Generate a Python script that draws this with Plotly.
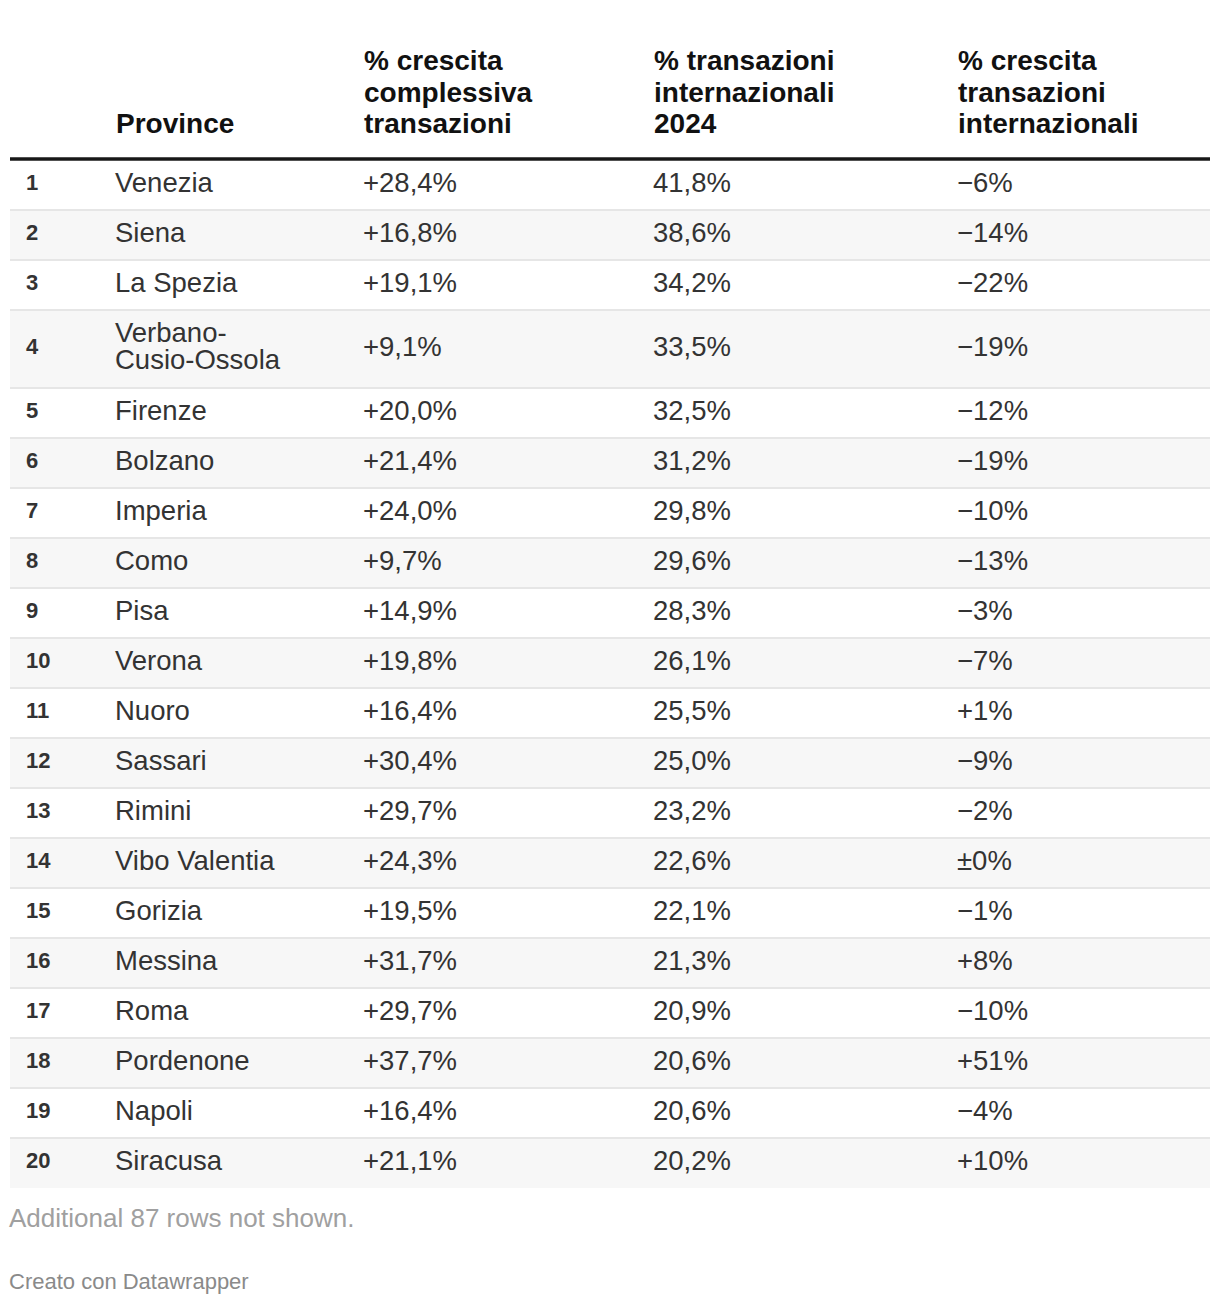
import plotly.graph_objects as go

# ---- data ----
ranks = list(range(1, 21))
provinces = ["Venezia", "Siena", "La Spezia", "Verbano-\nCusio-Ossola", "Firenze", "Bolzano",
             "Imperia", "Como", "Pisa", "Verona", "Nuoro", "Sassari", "Rimini", "Vibo Valentia",
             "Gorizia", "Messina", "Roma", "Pordenone", "Napoli", "Siracusa"]
crescita_totale = ["+28,4%", "+16,8%", "+19,1%", "+9,1%", "+20,0%", "+21,4%", "+24,0%", "+9,7%",
                   "+14,9%", "+19,8%", "+16,4%", "+30,4%", "+29,7%", "+24,3%", "+19,5%", "+31,7%",
                   "+29,7%", "+37,7%", "+16,4%", "+21,1%"]
quota_internazionali = ["41,8%", "38,6%", "34,2%", "33,5%", "32,5%", "31,2%", "29,8%", "29,6%",
                        "28,3%", "26,1%", "25,5%", "25,0%", "23,2%", "22,6%", "22,1%", "21,3%",
                        "20,9%", "20,6%", "20,6%", "20,2%"]
crescita_internazionali = ["−6%", "−14%", "−22%", "−19%", "−12%", "−19%", "−10%", "−13%", "−3%",
                           "−7%", "+1%", "−9%", "−2%", "±0%", "−1%", "+8%", "−10%", "+51%", "−4%",
                           "+10%"]
headers = ["", "Province", "% crescita\ncomplessiva\ntransazioni",
           "% transazioni\ninternazionali\n2024", "% crescita\ntransazioni\ninternazionali"]
footer_note = "Additional 87 rows not shown."
credit = "Creato con Datawrapper"

# ---- layout constants ----
W, H = 1220, 1306
PAGE_OFF = 8  # default body margin of the html page
LEFT, RIGHT = 10, 1210
col_x = [26, 115, 363, 653, 957]
header_bottom = 160
base_row_h = 50
extra_line_h = 28
body_line_h = 27
header_line_h = 31.5
header_last_center = 126

FONT = "Liberation Sans, Arial, Helvetica, sans-serif"
BODY_COLOR = "#333333"
HEAD_COLOR = "#111111"

fig = go.Figure()
shapes = []

# row geometry
tops, heights = [], []
y = header_bottom
for p in provinces:
    n = p.count("\n") + 1
    h = base_row_h + (n - 1) * extra_line_h
    tops.append(y)
    heights.append(h)
    y += h
centers = [t + h / 2 for t, h in zip(tops, heights)]

# backgrounds and separators
for i, (t, h) in enumerate(zip(tops, heights)):
    if i % 2 == 1:
        shapes.append(dict(type="rect", x0=LEFT, x1=RIGHT, y0=t, y1=t + h,
                           fillcolor="#f7f7f7", line=dict(width=0), layer="below"))
    if i > 0:
        shapes.append(dict(type="line", x0=LEFT, x1=RIGHT, y0=t, y1=t,
                           line=dict(color="#e6e6e6", width=2), layer="below"))
# header rule
shapes.append(dict(type="line", x0=LEFT, x1=RIGHT, y0=header_bottom - 1, y1=header_bottom - 1,
                   line=dict(color="#181818", width=3.5)))


def add_text_col(x, ys, texts, size, color, bold=False, line_h=body_line_h):
    px, py, pt = [], [], []
    for yc, t in zip(ys, texts):
        lines = t.split("\n")
        n = len(lines)
        for k, ln in enumerate(lines):
            px.append(x)
            py.append(yc + (k - (n - 1) / 2) * line_h)
            pt.append(f"<b>{ln}</b>" if bold else ln)
    fig.add_trace(go.Scatter(x=px, y=py, text=pt, mode="text", textposition="middle right",
                             textfont=dict(family=FONT, size=size, color=color),
                             hoverinfo="skip", showlegend=False, cliponaxis=False))


# body
add_text_col(col_x[0], [c - 1 for c in centers], [str(r) for r in ranks], 22, BODY_COLOR, bold=True)
add_text_col(col_x[1], centers, provinces, 27.5, BODY_COLOR)
add_text_col(col_x[2], centers, crescita_totale, 27.5, BODY_COLOR)
add_text_col(col_x[3], centers, quota_internazionali, 27.5, BODY_COLOR)
add_text_col(col_x[4], centers, crescita_internazionali, 27.5, BODY_COLOR)

# header (bottom aligned)
hx, hy, ht = [], [], []
for x, h in zip(col_x, headers):
    if not h:
        continue
    lines = h.split("\n")
    n = len(lines)
    for k, ln in enumerate(lines):
        hx.append(x + 1)
        hy.append(header_last_center - (n - 1 - k) * header_line_h)
        ht.append(f"<b>{ln}</b>")
fig.add_trace(go.Scatter(x=hx, y=hy, text=ht, mode="text", textposition="middle right",
                         textfont=dict(family=FONT, size=28, color=HEAD_COLOR),
                         hoverinfo="skip", showlegend=False, cliponaxis=False))

# footer
table_bottom = tops[-1] + heights[-1]
fig.add_trace(go.Scatter(x=[LEFT - 1], y=[table_bottom + 32], text=[footer_note], mode="text",
                         textposition="middle right",
                         textfont=dict(family=FONT, size=26, color="#a0a0a0"),
                         hoverinfo="skip", showlegend=False, cliponaxis=False))
fig.add_trace(go.Scatter(x=[LEFT - 1], y=[table_bottom + 95], text=[credit], mode="text",
                         textposition="middle right",
                         textfont=dict(family=FONT, size=22, color="#8a8a8a"),
                         hoverinfo="skip", showlegend=False, cliponaxis=False))

fig.update_layout(
    width=W, height=H, margin=dict(l=0, r=0, t=0, b=0),
    paper_bgcolor="white", plot_bgcolor="white", shapes=shapes,
    xaxis=dict(range=[PAGE_OFF, W + PAGE_OFF], visible=False, fixedrange=True),
    yaxis=dict(range=[H + PAGE_OFF, PAGE_OFF], visible=False, fixedrange=True),
)
fig.write_html("out.html")
